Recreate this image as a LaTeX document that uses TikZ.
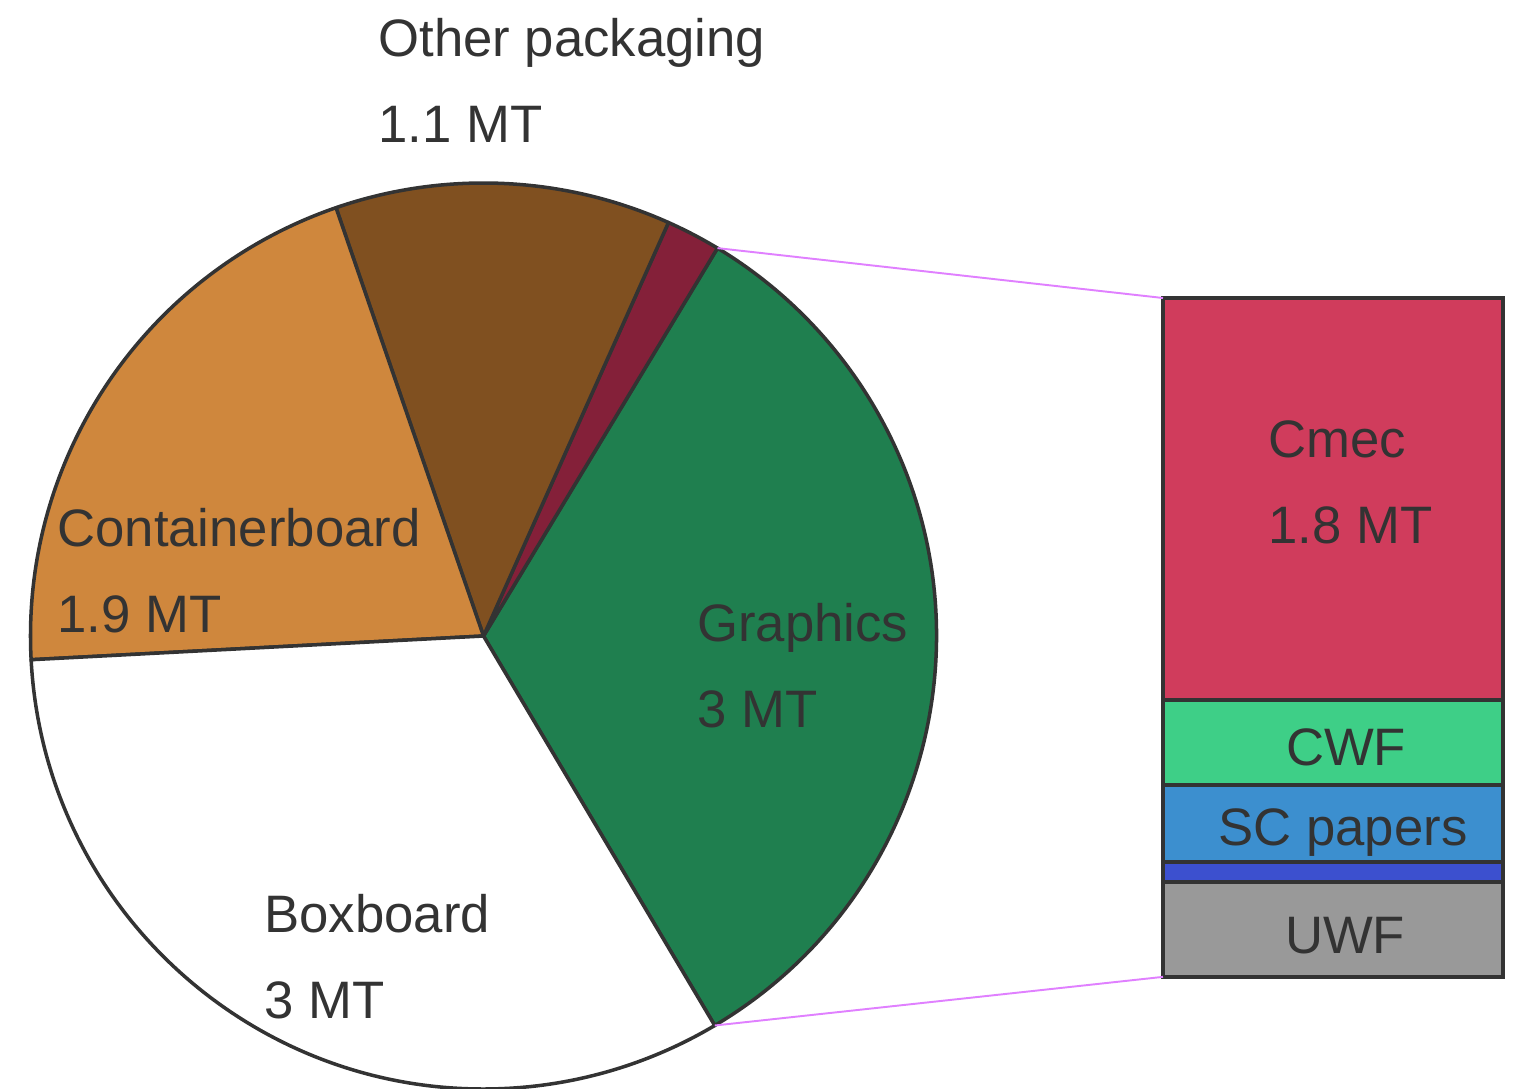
\documentclass[tikz,border=0pt]{standalone}
\usepackage{fontspec}
\setmainfont{Liberation Sans}
\usepackage{tikz}
\usetikzlibrary{positioning}

\definecolor{edgec}{HTML}{333333}
\definecolor{linkc}{HTML}{E080FF}
\definecolor{containerc}{HTML}{CF873D}
\definecolor{otherc}{HTML}{805020}
\definecolor{maroonc}{HTML}{842039}
\definecolor{graphicsc}{HTML}{1F7F4F}
\definecolor{cmecc}{HTML}{D03C5C}
\definecolor{cwfc}{HTML}{3ECF87}
\definecolor{scc}{HTML}{3C8FCF}
\definecolor{bluec}{HTML}{3C50CF}
\definecolor{uwfc}{HTML}{999999}

\begin{document}
\begin{tikzpicture}[x=0.02cm,y=0.02cm,
    slice/.style={draw=edgec,line width=2pt,line join=round},
    seg/.style={draw=edgec,line width=2pt,inner sep=0pt,outer sep=0pt,
      minimum width=6.8cm},
    lbl/.style={text=edgec,font=\fontsize{30}{48.8}\selectfont,inner sep=0pt,
      align=left,anchor=base west},
    barlbl/.style={text=edgec,font=\fontsize{30}{36}\selectfont,inner sep=0pt,
      anchor=base},
    link/.style={linkc,line width=1.1pt}]
          %\draw[very thin,lightgray] (0,0) grid[step=100] (1516,-1089);
          \useasboundingbox (0,0) rectangle (1516,-1089);
          \coordinate (c) at (483.5,-636);
          % pie
          \filldraw[slice,fill=graphicsc] (c) -- ++(-59.3:453)
          arc (-59.3:58.9:453) -- cycle;
          \filldraw[slice,fill=maroonc] (c) -- ++(58.9:453)
          arc (58.9:65.9:453) -- cycle;
          \filldraw[slice,fill=otherc] (c) -- ++(65.9:453)
          arc (65.9:109:453) -- cycle;
          \filldraw[slice,fill=containerc] (c) -- ++(109:453)
          arc (109:183:453) -- cycle;
          \filldraw[slice,fill=white] (c) -- ++(183:453)
          arc (183:300.7:453) -- cycle;
          \coordinate (gtop) at ([shift={(58.9:453)}]c);
          \coordinate (gbot) at ([shift={(-59.3:453)}]c);
          % bar
          \node[seg,fill=cmecc,minimum height=8.04cm,anchor=north west]
          (cmec) at (1163,-298) {};
          \node[seg,fill=cwfc,minimum height=1.7cm,below=0pt of cmec] (cwf) {};
          \node[seg,fill=scc,minimum height=1.54cm,below=0pt of cwf] (sc) {};
          \node[seg,fill=bluec,minimum height=0.4cm,below=0pt of sc] (blu) {};
          \node[seg,fill=uwfc,minimum height=1.9cm,below=0pt of blu] (uwf) {};
          \draw[link] (gtop) -- (cmec.north west);
          \draw[link] (gbot) -- (uwf.south west);
          % labels (base = last line)
          \node[lbl] (otherlbl) at (378,-142) {Other packaging\\1.1 MT};
          \node[lbl] (containerlbl) at (57,-632) {Containerboard\\1.9 MT};
          \node[lbl] (graphicslbl) at (697,-727) {Graphics\\3 MT};
          \node[lbl] (boxlbl) at (264,-1018) {Boxboard\\3 MT};
          \node[lbl] (cmeclbl) at (1268,-543) {Cmec\\1.8 MT};
          \node[barlbl] (cwflbl) at (1346,-765) {CWF};
          \node[barlbl] (sclbl) at (1343,-845) {SC papers};
          \node[barlbl] (uwflbl) at (1345,-953) {UWF};
        \end{tikzpicture}
\end{document}
